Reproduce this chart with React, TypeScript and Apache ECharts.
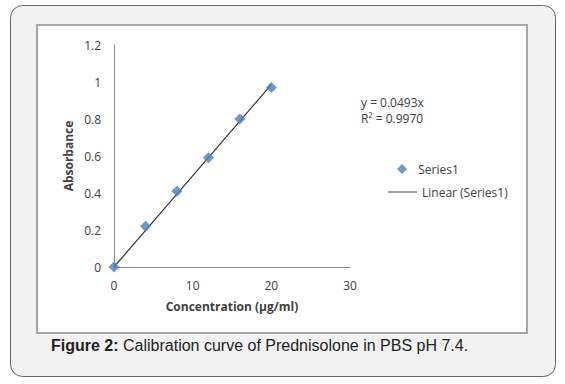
import React, { useEffect, useRef } from "react";
import * as echarts from "echarts";

const concentration = [0, 4, 8, 12, 16, 20];
const absorbance = [0, 0.22, 0.41, 0.59, 0.8, 0.97];
const slope = 0.0493;
const trendX = [0, 20];
const equationLines = ["y = 0.0493x", "R² = 0.9970"];
const seriesName = "Series1";
const trendName = "Linear (Series1)";
const xAxisTitle = "Concentration (µg/ml)";
const yAxisTitle = "Absorbance";
const captionBold = "Figure 2:";
const captionText = " Calibration curve of Prednisolone in PBS pH 7.4.";

const chartFont = "'Open Sans', Lato, sans-serif";
const fs = 12;

export default function App() {
  const ref = useRef<HTMLDivElement>(null);
  useEffect(() => {
    if (!ref.current) return;
    const chart = echarts.init(ref.current, undefined, { renderer: "svg" });
    const scatterData = concentration.map((x, i) => [x, absorbance[i]]);
    const trendData = trendX.map((x) => [x, +(slope * x).toFixed(4)]);
    const equationTexts = equationLines.map((line, i) => ({
      type: "text",
      left: 361,
      top: 96 + i * 16,
      style: {
        text: line,
        fill: "#404040",
        font: `${fs}px ${chartFont}`,
        lineHeight: 13,
      },
    }));
    chart.setOption({
      animation: false,
      backgroundColor: "#ffffff",
      textStyle: { fontFamily: chartFont },
      graphic: [
        {
          type: "rect",
          z: -10,
          silent: true,
          shape: { x: 10.5, y: 5.5, width: 545, height: 371, r: 12 },
          style: { fill: "#f2f2f2", stroke: "#666666", lineWidth: 1 },
        },
        {
          type: "rect",
          z: -9,
          silent: true,
          shape: { x: 37, y: 25, width: 490, height: 308 },
          style: { fill: "#ffffff", stroke: "#a6a6a6", lineWidth: 2 },
        },
        ...equationTexts,
        {
          type: "text",
          left: 51,
          top: 337,
          style: {
            text: `{b|${captionBold}}{n|${captionText}}`,
            rich: {
              b: {
                fontFamily: "'Liberation Sans', Arial, sans-serif",
                fontSize: 16,
                fontWeight: "bold",
                fill: "#222222",
              },
              n: {
                fontFamily: "'Liberation Sans', Arial, sans-serif",
                fontSize: 16,
                fill: "#222222",
              },
            },
          },
        },
      ],
      grid: { left: 114, top: 45, right: 215, bottom: 117, containLabel: false },
      xAxis: {
        type: "value",
        min: 0,
        max: 30,
        interval: 10,
        name: xAxisTitle,
        nameLocation: "middle",
        nameGap: 33,
        nameTextStyle: { fontWeight: "bold", fontSize: fs, color: "#404040", fontFamily: chartFont },
        axisLine: { show: true, lineStyle: { color: "#868686", width: 1 } },
        axisTick: { show: false },
        splitLine: { show: false },
        axisLabel: { color: "#404040", fontSize: fs, margin: 12, fontFamily: chartFont },
      },
      yAxis: {
        type: "value",
        min: 0,
        max: 1.2,
        interval: 0.2,
        name: yAxisTitle,
        nameLocation: "middle",
        nameGap: 40,
        nameRotate: 90,
        nameTextStyle: { fontWeight: "bold", fontSize: fs, color: "#404040", fontFamily: chartFont },
        axisLine: { show: true, lineStyle: { color: "#868686", width: 1 } },
        axisTick: { show: false },
        splitLine: { show: false },
        axisLabel: { color: "#404040", fontSize: fs, margin: 13, fontFamily: chartFont },
      },
      legend: [
        {
          data: [{ name: seriesName, icon: "diamond" }],
          left: 392,
          top: 158,
          itemWidth: 10,
          itemHeight: 10,
          formatter: (name: string) => "  " + name,
          textStyle: { color: "#404040", fontSize: fs, fontFamily: chartFont },
        },
        {
          data: [{ name: trendName, icon: "rect" }],
          left: 383,
          top: 181,
          itemWidth: 29,
          itemHeight: 1,
          itemStyle: { color: "#404040" },
          textStyle: { color: "#404040", fontSize: fs, fontFamily: chartFont },
        },
      ],
      series: [
        {
          name: trendName,
          type: "line",
          data: trendData,
          symbol: "none",
          lineStyle: { color: "#333333", width: 1.2 },
          itemStyle: { color: "#404040" },
          z: 1,
        },
        {
          name: seriesName,
          type: "scatter",
          data: scatterData,
          symbol: "diamond",
          symbolSize: 11,
          itemStyle: { color: "#4a7ebb" },
          z: 2,
        },
      ],
    });
    return () => chart.dispose();
  }, []);
  return (
    <div
      ref={ref}
      style={{ position: "fixed", left: 0, top: 0, width: 565, height: 384 }}
    />
  );
}
